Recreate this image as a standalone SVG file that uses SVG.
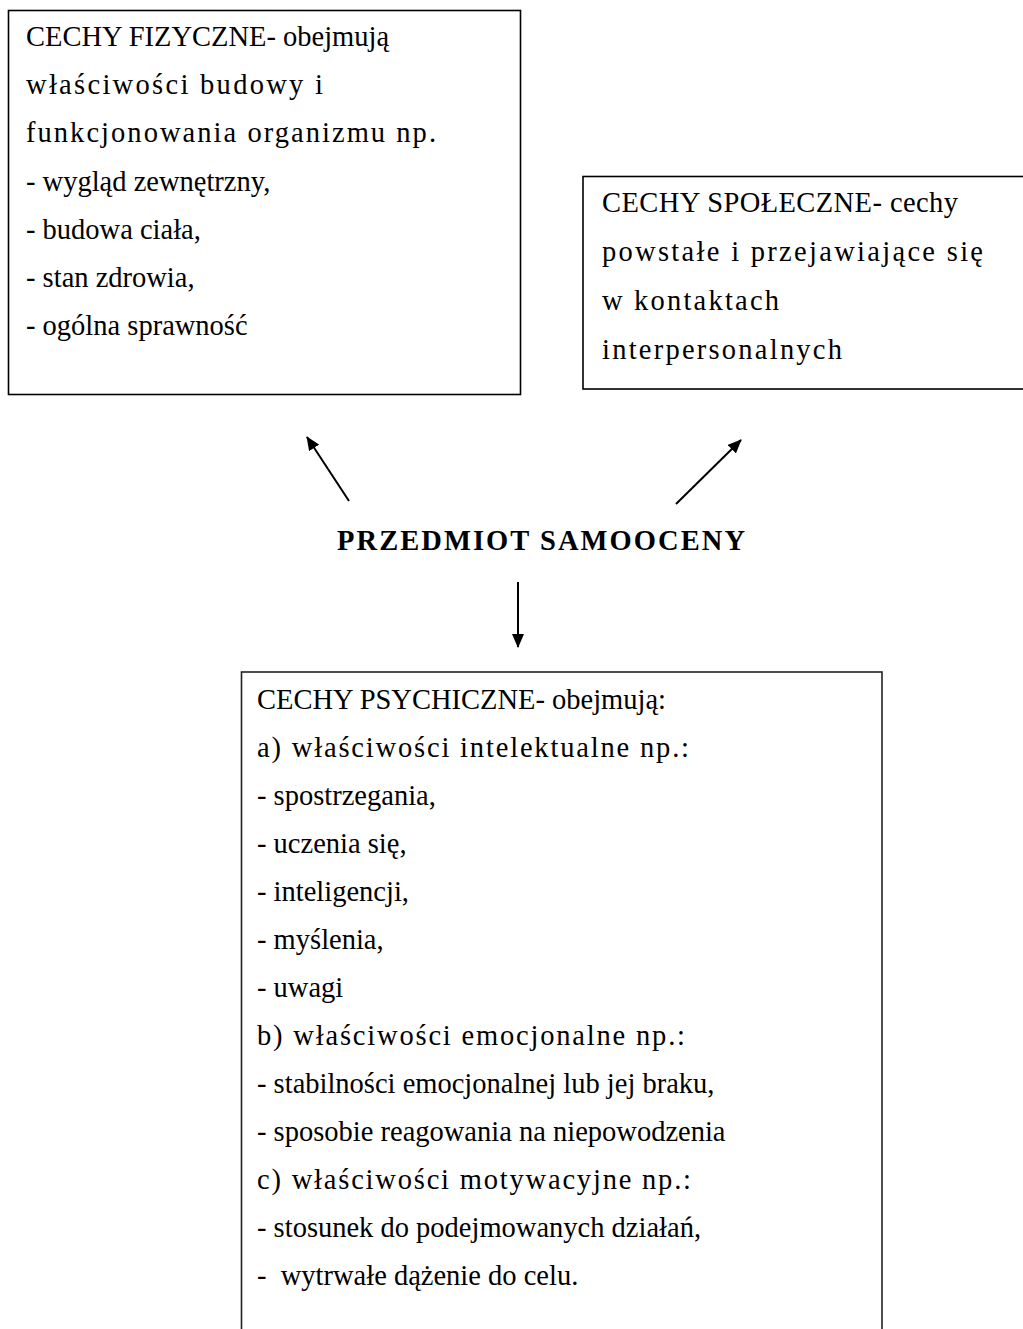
<svg xmlns="http://www.w3.org/2000/svg" width="1023" height="1329" viewBox="0 0 1023 1329">
<defs>
<style>
.box{fill:#fff;stroke:#000;stroke-width:1.6}
.t{font-family:"Liberation Serif","Times New Roman",serif;font-size:28.5px;fill:#000}
.h{font-family:"Liberation Serif","Times New Roman",serif;font-size:28.5px;font-weight:bold;fill:#000}
.c{stroke:#000;stroke-width:2;fill:none}
</style>
<marker id="ah" viewBox="0 0 14 12" refX="13" refY="6" markerWidth="14" markerHeight="12" markerUnits="userSpaceOnUse" orient="auto">
<path d="M0,0 L14,6 L0,12 Z" fill="#000"/>
</marker>
</defs>
<rect width="1023" height="1329" fill="#fff"/>
<g id="fizyczne">
<rect class="box" x="8.5" y="10.5" width="512" height="384"/>
<text class="t" x="26" y="46">CECHY FIZYCZNE- obejmują</text>
<text class="t" x="26" y="94.2" textLength="297" lengthAdjust="spacing">właściwości budowy i</text>
<text class="t" x="26" y="142.4" textLength="410" lengthAdjust="spacing">funkcjonowania organizmu np.</text>
<text class="t" x="26" y="190.6">- wygląd zewnętrzny,</text>
<text class="t" x="26" y="238.8">- budowa ciała,</text>
<text class="t" x="26" y="287">- stan zdrowia,</text>
<text class="t" x="26" y="335.2">- ogólna sprawność</text>
</g>
<g id="spoleczne">
<rect class="box" x="583" y="176.5" width="450" height="212.5"/>
<text class="t" x="602" y="212" textLength="356" lengthAdjust="spacing">CECHY SPOŁECZNE- cechy</text>
<text class="t" x="602" y="261" textLength="381" lengthAdjust="spacing">powstałe i przejawiające się</text>
<text class="t" x="602" y="310" textLength="177" lengthAdjust="spacing">w kontaktach</text>
<text class="t" x="602" y="359" textLength="240" lengthAdjust="spacing">interpersonalnych</text>
</g>
<g id="przedmiot">
<text class="h" x="337" y="550" textLength="408" lengthAdjust="spacing">PRZEDMIOT SAMOOCENY</text>
</g>
<g id="psychiczne">
<rect class="box" x="241.5" y="672" width="640.5" height="700" style="stroke:#222"/>
<text class="t" x="257" y="709">CECHY PSYCHICZNE- obejmują:</text>
<text class="t" x="257" y="757" textLength="432" lengthAdjust="spacing">a) właściwości intelektualne np.:</text>
<text class="t" x="257" y="805">- spostrzegania,</text>
<text class="t" x="257" y="853">- uczenia się,</text>
<text class="t" x="257" y="901">- inteligencji,</text>
<text class="t" x="257" y="949">- myślenia,</text>
<text class="t" x="257" y="997">- uwagi</text>
<text class="t" x="257" y="1045" textLength="428" lengthAdjust="spacing">b) właściwości emocjonalne np.:</text>
<text class="t" x="257" y="1093">- stabilności emocjonalnej lub jej braku,</text>
<text class="t" x="257" y="1141">- sposobie reagowania na niepowodzenia</text>
<text class="t" x="257" y="1189" textLength="434" lengthAdjust="spacing">c) właściwości motywacyjne np.:</text>
<text class="t" x="257" y="1237">- stosunek do podejmowanych działań,</text>
<text class="t" x="257" y="1285" xml:space="preserve">-  wytrwałe dążenie do celu.</text>
</g>
<g id="connectors">
<line class="c" x1="349" y1="501" x2="307" y2="437" marker-end="url(#ah)"/>
<line class="c" x1="676" y1="504" x2="741" y2="440" marker-end="url(#ah)"/>
<line class="c" x1="518" y1="582" x2="518" y2="647" marker-end="url(#ah)"/>
</g>
</svg>
